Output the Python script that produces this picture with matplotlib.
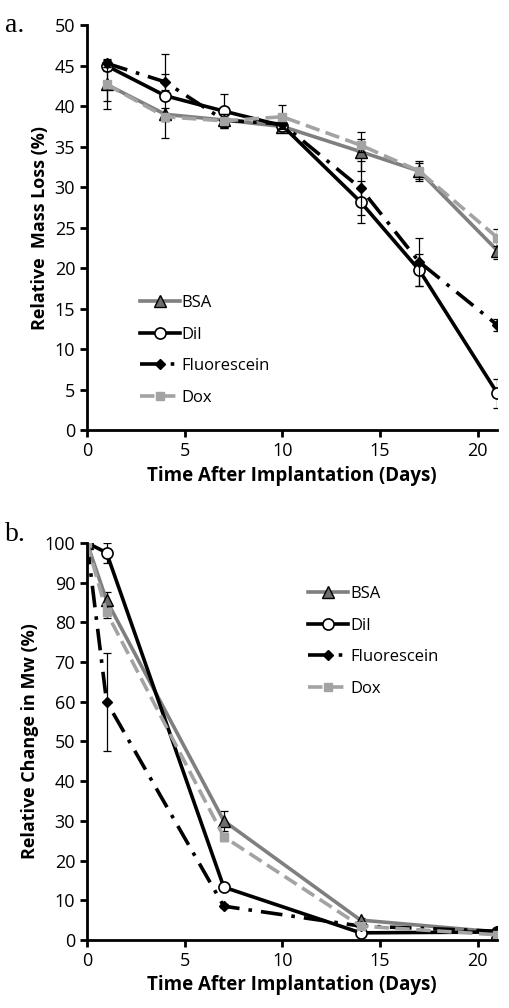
import matplotlib.pyplot as plt

plt.rcParams['font.family'] = ['Open Sans', 'DejaVu Sans']

# Panel a: relative mass loss
days_a = [1, 4, 7, 10, 14, 17, 21]
bsa_a = [42.7, 39.0, 38.3, 37.5, 34.4, 32.0, 22.2]
bsa_a_err = [3.0, 0.8, 1.0, 0.5, 2.4, 1.0, 1.0]
dil_a = [45.0, 41.3, 39.4, 37.6, 28.2, 19.8, 4.6]
dil_a_err = [0.6, 5.2, 2.1, 0.5, 2.6, 2.0, 1.8]
flu_a = [45.3, 43.0, 38.3, 37.8, 29.9, 20.8, 13.0]
flu_a_err = [0.5, 1.0, 0.8, 0.5, 3.3, 3.0, 0.7]
dox_a = [42.7, 38.7, 38.2, 38.7, 35.2, 32.0, 23.8]
dox_a_err = [2.1, 0.5, 0.8, 1.5, 0.8, 1.2, 1.0]

# Panel b: relative change in Mw
days_b = [0, 1, 7, 14, 21]
bsa_b = [100, 85.5, 30.0, 5.0, 2.0]
bsa_b_err = [0, 2.0, 2.5, 0.5, 0.3]
dil_b = [100, 97.5, 13.3, 1.8, 2.0]
dil_b_err = [0, 2.5, 0.5, 0.3, 0.3]
flu_b = [100, 60.0, 8.5, 3.5, 2.2]
flu_b_err = [0, 12.3, 0.5, 0.3, 0.3]
dox_b = [100, 82.5, 26.0, 3.5, 1.3]
dox_b_err = [0, 1.5, 1.0, 0.3, 0.3]

labels = ["BSA", "DiI", "Fluorescein", "Dox"]


def draw(ax, x, series, errs):
    styles = [
        dict(color="#7f7f7f", ls="-", marker="^", mfc="#6e6e6e", mec="black", ms=8, mew=1),
        dict(color="black", ls="-", marker="o", mfc="white", mec="black", ms=8, mew=1.2),
        dict(color="black", ls=(0, (6, 2.5, 1, 2.5)), marker="D", mfc="black", mec="black", ms=5),
        dict(color="#a3a3a3", ls=(0, (4, 1.8)), marker="s", mfc="#a3a3a3", mec="#a3a3a3", ms=6),
    ]
    for y, e, lab, st in zip(series, errs, labels, styles):
        ax.errorbar(x, y, yerr=e, fmt="none", ecolor="black", elinewidth=0.9,
                    capsize=3, capthick=0.9)
        ax.plot(x, y, lw=2.6, label=lab, **st)


fig = plt.figure(figsize=(5.09, 10.08), dpi=100)

ax1 = fig.add_axes([0.171, 0.573, 0.806, 0.402])
draw(ax1, days_a, [bsa_a, dil_a, flu_a, dox_a], [bsa_a_err, dil_a_err, flu_a_err, dox_a_err])
ax1.set_xlim(0, 21)
ax1.set_ylim(0, 50)
ax1.set_yticks(range(0, 51, 5))
ax1.set_xticks(range(0, 21, 5))
ax1.set_ylabel("Relative  Mass Loss (%)", fontsize=13, fontweight="bold")
ax1.set_xlabel("Time After Implantation (Days)", fontsize=13.5, fontweight="bold")
ax1.legend(loc="center left", bbox_to_anchor=(0.093, 0.1975), frameon=False, fontsize=12,
           handlelength=2.4, handletextpad=0.1, labelspacing=0.93)

ax2 = fig.add_axes([0.171, 0.0675, 0.806, 0.394])
draw(ax2, days_b, [bsa_b, dil_b, flu_b, dox_b], [bsa_b_err, dil_b_err, flu_b_err, dox_b_err])
ax2.set_xlim(0, 21)
ax2.set_ylim(0, 100)
ax2.set_yticks(range(0, 101, 10))
ax2.set_xticks(range(0, 21, 5))
ax2.set_ylabel("Relative Change in Mw (%)", fontsize=13, fontweight="bold")
ax2.set_xlabel("Time After Implantation (Days)", fontsize=13.5, fontweight="bold")
ax2.legend(loc="center left", bbox_to_anchor=(0.503, 0.752), frameon=False, fontsize=12,
           handlelength=2.4, handletextpad=0.1, labelspacing=0.93)

for ax in (ax1, ax2):
    ax.spines["top"].set_visible(False)
    ax.spines["right"].set_visible(False)
    ax.spines["left"].set_linewidth(2)
    ax.spines["bottom"].set_linewidth(2)
    ax.tick_params(width=2, length=5, labelsize=13)

fig.text(0.01, 0.975, "a.", fontsize=20, family="Liberation Serif", va="center")
fig.text(0.01, 0.47, "b.", fontsize=20, family="Liberation Serif", va="center")

fig.savefig("out.png", dpi=100)
